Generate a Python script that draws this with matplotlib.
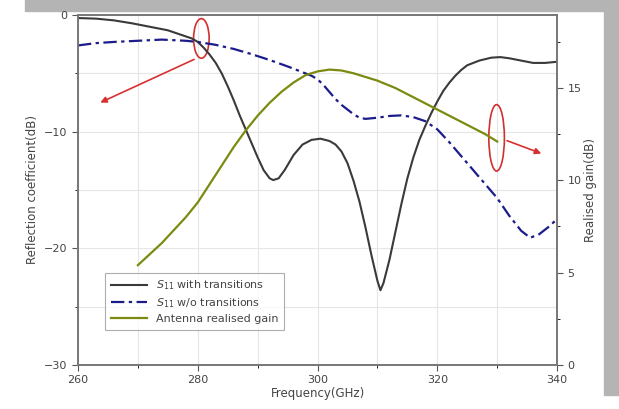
import matplotlib.pyplot as plt
from matplotlib.patches import Ellipse, Rectangle

# S11 with transitions
freq_with = [260, 263, 266, 269, 272, 275, 277, 279, 280, 281, 282, 283, 284, 285, 286,
             287, 288, 289, 290, 291, 292, 292.6, 293.5, 294.5, 296, 297.5, 299, 300.5,
             302, 303, 304, 305, 306, 307, 308, 309, 310, 310.5, 311, 312, 313, 314, 315,
             316, 317, 318, 319, 320, 321, 322, 323, 324, 325, 327, 329, 330.5, 332, 334,
             336, 338, 340]
s11_with = [-0.25, -0.3, -0.45, -0.7, -1.0, -1.3, -1.65, -2.0, -2.3, -2.8, -3.4, -4.1,
            -5.0, -6.1, -7.3, -8.6, -9.8, -11.0, -12.2, -13.3, -14.0, -14.15, -14.0, -13.3,
            -12.0, -11.1, -10.7, -10.6, -10.8, -11.1, -11.7, -12.7, -14.2, -16.0, -18.2,
            -20.6, -22.8, -23.6, -23.0, -21.0, -18.6, -16.2, -14.0, -12.2, -10.7, -9.5,
            -8.4, -7.4, -6.5, -5.8, -5.2, -4.7, -4.3, -3.9, -3.65, -3.6, -3.7, -3.9, -4.1,
            -4.1, -4.0]

# S11 without transitions
freq_wo = [260, 263, 266, 270, 274, 278, 280, 283, 286, 289, 292, 295, 297, 299, 300,
           301, 302, 303, 304, 305, 306, 307, 308, 310, 312, 314, 316, 318, 320, 322,
           324, 326, 328, 330, 332, 334, 335.5, 337, 338.5, 340]
s11_wo = [-2.6, -2.4, -2.3, -2.2, -2.1, -2.2, -2.3, -2.55, -2.9, -3.35, -3.85, -4.4, -4.8,
          -5.2, -5.5, -6.0, -6.6, -7.2, -7.7, -8.1, -8.5, -8.8, -8.9, -8.8, -8.65, -8.6,
          -8.75, -9.1, -9.8, -10.9, -12.1, -13.3, -14.5, -15.7, -17.2, -18.5, -19.1,
          -18.8, -18.2, -17.5]

# antenna realised gain
freq_gain = [270, 272, 274, 276, 278, 280, 282, 284, 286, 288, 290, 292, 294, 296, 298,
             300, 302, 304, 306, 308, 310, 313, 316, 319, 322, 325, 328, 330]
gain = [5.4, 6.0, 6.6, 7.3, 8.0, 8.8, 9.8, 10.8, 11.8, 12.7, 13.5, 14.2, 14.8, 15.3, 15.7,
        15.9, 16.0, 15.95, 15.8, 15.6, 15.4, 15.0, 14.5, 14.0, 13.5, 13.0, 12.5, 12.1]

fig = plt.figure(figsize=(6.19, 4.09), dpi=100)
fig.patch.set_facecolor("white")
ax = fig.add_axes([0.126, 0.108, 0.774, 0.855])
ax2 = ax.twinx()

l1, = ax.plot(freq_with, s11_with, color="#3a3a3a", lw=1.5)
l2, = ax.plot(freq_wo, s11_wo, color="#1c1c8a", lw=1.6, ls=(0, (6, 2, 1.5, 2)))
l3, = ax2.plot(freq_gain, gain, color="#7c8a10", lw=1.6)

ax.set_xlim(260, 340)
ax.set_ylim(-30, 0)
ax2.set_ylim(0, 18.95)
ax.set_xticks([260, 280, 300, 320, 340])
ax.set_xticks([270, 290, 310, 330], minor=True)
ax.set_yticks([-30, -20, -10, 0])
ax.set_yticks([-25, -15, -5], minor=True)
ax2.set_yticks([0, 5, 10, 15])
ax2.set_yticks([2.5, 7.5, 12.5, 17.5], minor=True)

ax.grid(True, which="both", color="#e6e6e6", lw=0.8)
ax.set_axisbelow(True)
for a in (ax, ax2):
    for s in a.spines.values():
        s.set_color("#777777")
        s.set_linewidth(1.2)
    a.tick_params(labelsize=8, colors="#555555", labelcolor="#444444", length=4)
    a.tick_params(which="minor", length=2)

ax.set_xlabel("Frequency(GHz)", fontsize=8.5, color="#444444", labelpad=1)
ax.set_ylabel("Reflection coefficient(dB)", fontsize=8.5, color="#444444", labelpad=4)
ax2.set_ylabel("Realised gain(dB)", fontsize=8.5, color="#444444", labelpad=2)

leg = ax.legend([l1, l2, l3],
                [r"$S_{11}$ with transitions", r"$S_{11}$ w/o transitions", "Antenna realised gain"],
                loc="lower left", bbox_to_anchor=(0.045, 0.085), fontsize=8, frameon=True,
                fancybox=False, handlelength=3.3, borderpad=0.5, labelspacing=0.35)
leg.get_frame().set_edgecolor("#999999")
leg.get_frame().set_linewidth(0.8)
for t in leg.get_texts():
    t.set_color("#444444")

# red markers
ax.add_patch(Ellipse((280.6, -2.0), 2.6, 3.4, fill=False, ec="#d03030", lw=1.2))
ax.annotate("", xy=(263.3, -7.6), xytext=(279.8, -3.7),
            arrowprops=dict(arrowstyle="-|>", color="#d83030", lw=1.2, mutation_scale=9))
ax2.add_patch(Ellipse((329.9, 12.3), 2.6, 3.6, fill=False, ec="#d03030", lw=1.2))
ax2.annotate("", xy=(337.8, 11.4), xytext=(331.2, 12.2),
             arrowprops=dict(arrowstyle="-|>", color="#d83030", lw=1.2, mutation_scale=9))

# gray border of the original screenshot
fig.add_artist(Rectangle((0.04, 0.972), 0.96, 0.028, transform=fig.transFigure,
                         color="#b4b4b4", zorder=0))
fig.add_artist(Rectangle((0.975, 0.035), 0.025, 0.94, transform=fig.transFigure,
                         color="#b4b4b4", zorder=0))

fig.savefig("out.png", dpi=100)
